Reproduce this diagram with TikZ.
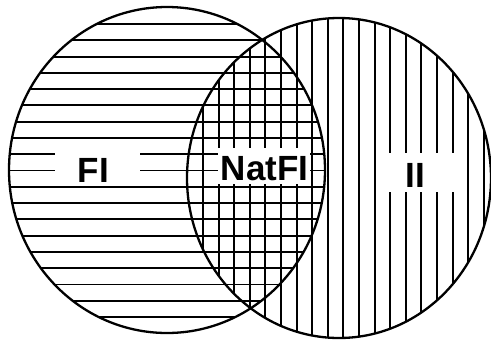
\documentclass[tikz,border=0pt]{standalone}
\usepackage{fontspec}
\setmainfont{Liberation Sans}
\begin{document}
\begin{tikzpicture}[x=1pt,y=-1pt,
  hatch/.style={line width=1.9pt,black},
  rim/.style={line width=2.3pt,black},
  gap/.style={fill=white,draw=none},
  lbl/.style={font=\bfseries\fontsize{35}{35}\selectfont,anchor=base,inner sep=0pt}]
\useasboundingbox[fill=white] (0,0) rectangle (491,341);
% horizontal hatching in the left circle
\begin{scope}
  \clip (167,170) ellipse [x radius=158pt, y radius=163pt];
  \foreach \k in {0,...,18} \draw[hatch] ({0},{24+16.28*\k}) -- ({340},{24+16.28*\k});
\end{scope}
% vertical hatching in the right circle
\begin{scope}
  \clip (339,178) ellipse [x radius=152pt, y radius=160pt];
  \foreach \k in {0,...,18} \draw[hatch] ({203+15.6*\k},{0}) -- ({203+15.6*\k},{341});
\end{scope}
% white gaps behind labels
\fill[gap] (55,147) rectangle (140,183);
\fill[gap] (218,148) rectangle (310,184);
\fill[gap] (378,153) rectangle (460,192);
% circle outlines
\draw[rim] (167,170) ellipse [x radius=158pt, y radius=163pt];
\draw[rim] (339,178) ellipse [x radius=152pt, y radius=160pt];
% labels
\node[lbl] (fi) at (93.5,182) {FI};
\node[lbl] (natfi) at (264.5,180) {NatFI};
\node[lbl] (ii) at (415.5,187) {II};
\end{tikzpicture}
\end{document}
